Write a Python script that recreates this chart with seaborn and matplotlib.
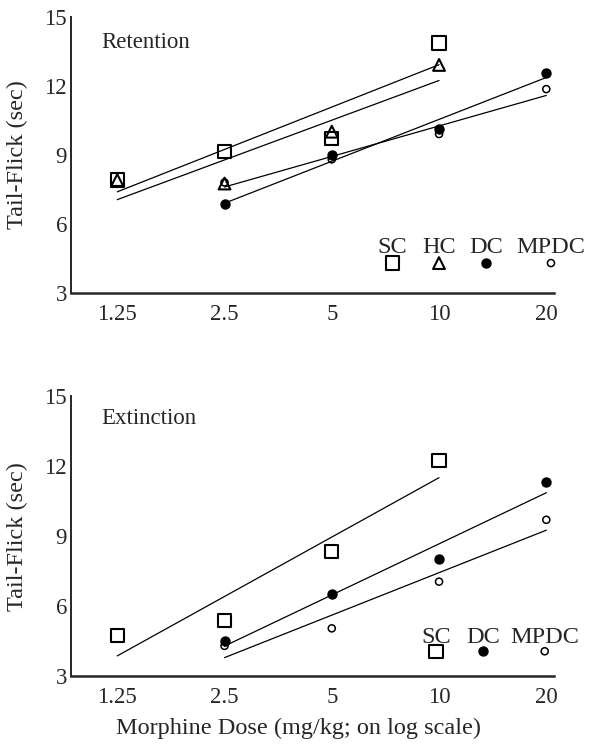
import matplotlib
matplotlib.use("Agg")
import matplotlib.pyplot as plt
import seaborn as sns

# Morphine dose (mg/kg) and tick labels
doses = [1.25, 2.5, 5, 10, 20]
dose_labels = ["1.25", "2.5", "5", "10", "20"]
y_ticks = [3, 6, 9, 12, 15]

# Retention panel: mean tail-flick latency (sec)
ret_sc_dose = [1.25, 2.5, 5, 10]
ret_sc = [7.9, 9.15, 9.7, 13.85]
ret_hc_dose = [1.25, 2.5, 5, 10]
ret_hc = [7.9, 7.75, 10.0, 12.9]
ret_dc_dose = [2.5, 5, 10, 20]
ret_dc = [6.85, 9.0, 10.1, 12.55]
ret_mpdc_dose = [2.5, 5, 10, 20]
ret_mpdc = [7.8, 8.8, 9.9, 11.85]

# Extinction panel
ext_sc_dose = [1.25, 2.5, 5, 10]
ext_sc = [4.75, 5.4, 8.35, 12.25]
ext_dc_dose = [2.5, 5, 10, 20]
ext_dc = [4.5, 6.5, 8.0, 11.3]
ext_mpdc_dose = [2.5, 5, 10, 20]
ext_mpdc = [4.3, 5.05, 7.05, 9.7]

# marker look for each group
STYLES = {
    "SC": dict(marker="s", s=90, facecolor="none", edgecolor="black", linewidth=1.5),
    "HC": dict(marker="^", s=72, facecolor="none", edgecolor="black", linewidth=1.5),
    "DC": dict(marker="o", s=42, facecolor="black", edgecolor="black", linewidth=1.0),
    "MPDC": dict(marker="o", s=26, facecolor="none", edgecolor="black", linewidth=1.1),
}

sns.set_style("ticks")
plt.rcParams["font.family"] = ["Liberation Serif", "DejaVu Serif"]
FS = 16.5
LABEL_FS = 17.5


def draw_group(ax, dose, vals, group):
    sns.regplot(x=dose, y=vals, logx=True, scatter=False, ci=None, truncate=True,
                color="black", line_kws=dict(lw=0.9, zorder=1), ax=ax)
    sns.scatterplot(x=dose, y=vals, ax=ax, zorder=3, **STYLES[group])


def draw_key(ax, groups, xs, y_text, y_mark):
    # legend with labels above the symbols, as in the original figure
    for g, x in zip(groups, xs):
        ax.text(x, y_text, g, transform=ax.transAxes, ha="center", va="center",
                fontsize=FS + 1)
        ax.scatter([x], [y_mark], transform=ax.transAxes, clip_on=False, zorder=3,
                   **STYLES[g])


def style_axes(ax, title, title_y):
    ax.set_xscale("log", base=2)
    ax.set_xlim(0.928, 21.0)
    ax.set_ylim(3, 15)
    ax.set_xticks(doses)
    ax.set_xticklabels(dose_labels)
    ax.minorticks_off()
    ax.set_yticks(y_ticks)
    ax.tick_params(axis="x", length=0, pad=8, labelsize=FS)
    ax.tick_params(axis="y", length=0, pad=3, labelsize=FS)
    sns.despine(ax=ax)
    ax.spines["left"].set_linewidth(1.4)
    ax.spines["bottom"].set_linewidth(1.8)
    ax.set_xlabel("")
    ax.set_ylabel("Tail-Flick (sec)", fontsize=LABEL_FS)
    ax.yaxis.set_label_coords(-0.09, 0.5)
    ax.text(0.062, title_y, title, transform=ax.transAxes, ha="left", va="center",
            fontsize=FS)


fig = plt.figure(figsize=(5.93, 7.53), dpi=100)
ax_top = fig.add_axes([0.120, 0.611, 0.814, 0.367])
ax_bot = fig.add_axes([0.120, 0.102, 0.814, 0.372])

draw_group(ax_top, ret_sc_dose, ret_sc, "SC")
draw_group(ax_top, ret_hc_dose, ret_hc, "HC")
draw_group(ax_top, ret_dc_dose, ret_dc, "DC")
draw_group(ax_top, ret_mpdc_dose, ret_mpdc, "MPDC")
style_axes(ax_top, "Retention", 0.907)
draw_key(ax_top, ["SC", "HC", "DC", "MPDC"], [0.665, 0.762, 0.859, 0.994], 0.165, 0.108)

draw_group(ax_bot, ext_sc_dose, ext_sc, "SC")
draw_group(ax_bot, ext_dc_dose, ext_dc, "DC")
draw_group(ax_bot, ext_mpdc_dose, ext_mpdc, "MPDC")
style_axes(ax_bot, "Extinction", 0.92)
draw_key(ax_bot, ["SC", "DC", "MPDC"], [0.756, 0.853, 0.981], 0.139, 0.089)
ax_bot.set_xlabel("Morphine Dose (mg/kg; on log scale)", fontsize=LABEL_FS)
ax_bot.xaxis.set_label_coords(0.47, -0.15)

fig.savefig("out.png", dpi=100)
